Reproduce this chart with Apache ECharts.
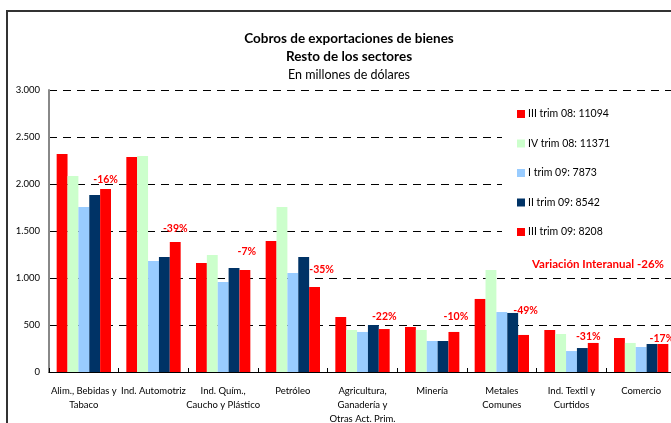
<!DOCTYPE html>
<html>
<head>
<meta charset="utf-8">
<script src="https://cdn.jsdelivr.net/npm/echarts@6/dist/echarts.min.js"></script>
<style>
  html, body { margin: 0; padding: 0; background: #fff; }
  #main { width: 671px; height: 423px; }
</style>
</head>
<body>
<div id="main"></div>
<script>
// datos (millones de USD)
const sectores = [
  'Alim., Bebidas y\nTabaco', 'Ind. Automotriz', 'Ind. Quím.,\nCaucho y Plástico', 'Petróleo',
  'Agricultura,\nGanadería y\nOtras Act. Prim.', 'Minería', 'Metales\nComunes',
  'Ind. Textil y\nCurtidos', 'Comercio'
]
const trimestres = ['III trim 08: 11094', 'IV trim 08: 11371', 'I trim 09: 7873', 'II trim 09: 8542', 'III trim 09: 8208']
const iiiTrim08 = [2320, 2287, 1160, 1394, 585, 479, 777, 447, 362]
const ivTrim08 = [2085, 2298, 1245, 1755, 447, 447, 1085, 404, 309]
const iTrim09 = [1755, 1181, 957, 1053, 426, 330, 638, 223, 266]
const iiTrim09 = [1883, 1223, 1106, 1223, 500, 330, 628, 255, 298]
const iiiTrim09 = [1947, 1383, 1085, 904, 457, 426, 394, 309, 298]
const variacion = ['-16%', '-39%', '-7%', '-35%', '-22%', '-10%', '-49%', '-31%', '-17%']
const yTicks = [0, 500, 1000, 1500, 2000, 2500, 3000]

// desplazamiento de cada etiqueta de variación respecto de su barra (px)
const labelDy = [4, 8, 13, 12, 7, 10, 19, 1, 0]
const labelDx = [0, 0, 2, 7, 0, 2, 2, -5, -1]

const colores = ['#ff0000', '#ccffcc', '#99ccff', '#003366', '#ff0000']
const valores = [iiiTrim08, ivTrim08, iTrim09, iiTrim09, iiiTrim09]
const fuente = 'Lato, "DejaVu Sans", sans-serif'

const chart = echarts.init(document.getElementById('main'))

const series = valores.map((vals, i) => ({
  name: trimestres[i],
  type: 'bar',
  barGap: 0,
  barCategoryGap: '22%',
  itemStyle: { color: colores[i] },
  data: vals.map((v, j) => {
    if (i !== 4) return v
    return {
      value: v,
      label: {
        show: true,
        position: 'top',
        distance: labelDy[j],
        offset: [labelDx[j], 0],
        formatter: variacion[j],
        color: '#ff0000',
        fontWeight: 'bold',
        fontSize: 10.5,
        fontFamily: fuente
      }
    }
  })
}))

chart.setOption({
  animation: false,
  textStyle: { fontFamily: fuente },
  title: [
    { text: 'Cobros de exportaciones de bienes', left: 344, top: 27, textAlign: 'center', z: 10,
      textStyle: { fontSize: 13.5, fontWeight: 'bold', color: '#000', fontFamily: fuente } },
    { text: 'Resto de los sectores', left: 344, top: 45, textAlign: 'center', z: 10,
      textStyle: { fontSize: 13.5, fontWeight: 'bold', color: '#000', fontFamily: fuente } },
    { text: 'En millones de dólares', left: 344, top: 63, textAlign: 'center', z: 10,
      textStyle: { fontSize: 12.5, fontWeight: 'normal', color: '#000', fontFamily: fuente } },
    { text: 'Variación Interanual -26%', left: 527, top: 253, z: 10,
      textStyle: { fontSize: 11.5, fontWeight: 'bold', color: '#ff0000', fontFamily: fuente } }
  ],
  graphic: [
    {
      type: 'rect',
      z: 1,
      shape: { x: 502, y: 93, width: 200, height: 177 },
      style: { fill: '#fff' },
      silent: true
    },
    {
      type: 'rect',
      z: 1,
      shape: { x: 7, y: 11, width: 720, height: 500 },
      style: { fill: 'none', stroke: '#333', lineWidth: 2 },
      silent: true
    }
  ],
  legend: {
    orient: 'vertical',
    left: 512,
    top: 103,
    z: 10,
    itemWidth: 8,
    itemHeight: 8,
    itemGap: 17.5,
    icon: 'rect',
    data: trimestres,
    textStyle: { fontSize: 10.5, lineHeight: 12, color: '#000', fontFamily: fuente, padding: [0, 0, 0, -2] }
  },
  grid: { left: 49, right: -5, top: 90, bottom: 51, outerBoundsMode: 'none' },
  xAxis: {
    type: 'category',
    data: sectores,
    axisLine: { lineStyle: { color: '#000', width: 1 } },
    axisTick: { show: true, inside: true, length: 4, lineStyle: { color: '#000' } },
    axisLabel: { interval: 0, fontSize: 9.5, lineHeight: 14, margin: 12, color: '#000', fontFamily: fuente }
  },
  yAxis: {
    type: 'value',
    min: yTicks[0],
    max: yTicks[yTicks.length - 1],
    interval: 500,
    axisLine: { show: true, lineStyle: { color: '#888', width: 2 } },
    axisTick: { show: false },
    axisLabel: {
      fontSize: 9.5, color: '#000', margin: 9, fontFamily: fuente,
      formatter: v => v >= 1000 ? Math.floor(v / 1000) + '.' + String(v % 1000).padStart(3, '0') : String(v)
    },
    splitLine: { lineStyle: { color: '#000', type: [8, 6], width: 1 } }
  },
  series: series
})
</script>
</body>
</html>
